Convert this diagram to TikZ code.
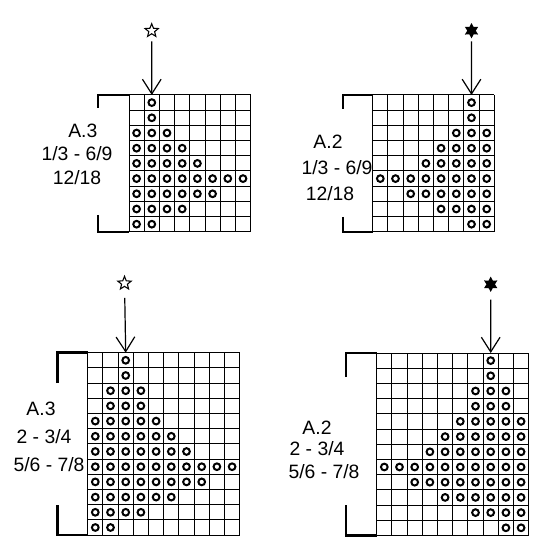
\documentclass[tikz,border=0pt]{standalone}
\usepackage{fontspec}
\setmainfont{Liberation Sans}
\usetikzlibrary{arrows.meta,shapes.geometric}
\tikzset{
	cell/.style={line width=0.75pt},
	stitch/.style={line width=1.5pt},
	bracket/.style={line width=2pt},
	pointer/.style={-{Straight Barb[length=11pt,width=14pt]}, line width=0.9pt, shorten <=8pt},
	chartlabel/.style={font=\fontsize{14.5}{17}\selectfont, inner sep=0pt},
	openstar/.style={star, star points=5, star point ratio=2.3, draw, line width=0.8pt, minimum size=10.5pt, inner sep=0pt},
	solidstar/.style={star, star points=6, star point ratio=1.8, fill, minimum size=11.5pt, inner sep=0pt},
}
\begin{document}
\begin{tikzpicture}[x=0.75pt, y=-0.75pt]
	\useasboundingbox (0,0) rectangle (550,559);
	% A.3 top
	\begin{scope}[shift={(129,95)}, x=11.4pt, y=-11.4pt]
		\foreach \i in {0,...,8} \draw[cell] (\i,0) -- (\i,9);
		\foreach \j in {0,...,9} \draw[cell] (0,\j) -- (8,\j);
		\foreach \r/\a/\b in {1/2/2, 2/2/2, 3/1/3, 4/1/4, 5/1/5, 6/1/8, 7/1/6, 8/1/4, 9/1/2}
			\foreach \c in {\a,...,\b} \draw[stitch] (\c-0.5,\r-0.5) circle[radius=0.22];
		\coordinate (topA) at (1.5,0);
	\end{scope}
	\draw[bracket] (98,108) -- (98,95) -- (129,95);
	\draw[bracket] (98,215) -- (98,232) -- (129,232);
	\node[openstar] (starA) at (151.7,30.7) {};
	\draw[pointer] (starA.center) -- (topA);
	\node[chartlabel] (nameA) at (82.8,130.7) {A.3};
	\node[chartlabel] (sizeA) at (77,154) {1/3 - 6/9};
	\node[chartlabel] (moreA) at (77,178) {12/18};
	% A.2 top
	\begin{scope}[shift={(372.7,95)}, x=11.4pt, y=-11.4pt]
		\foreach \i in {0,...,8} \draw[cell] (\i,0) -- (\i,9);
		\foreach \j in {0,...,9} \draw[cell] (0,\j) -- (8,\j);
		\foreach \r/\a/\b in {1/7/7, 2/7/7, 3/6/8, 4/5/8, 5/4/8, 6/1/8, 7/3/8, 8/5/8, 9/7/8}
			\foreach \c in {\a,...,\b} \draw[stitch] (\c-0.5,\r-0.5) circle[radius=0.22];
		\coordinate (topB) at (6.5,0);
	\end{scope}
	\draw[bracket] (343,109) -- (343,95) -- (372.7,95);
	\draw[bracket] (343,217) -- (343,232) -- (372.7,232);
	\node[solidstar] (starB) at (471.5,30.7) {};
	\draw[pointer] (starB.center) -- (topB);
	\node[chartlabel] (nameB) at (328,141.5) {A.2};
	\node[chartlabel] (sizeB) at (337,168) {1/3 - 6/9};
	\node[chartlabel] (moreB) at (330,194) {12/18};
	% A.3 bottom
	\begin{scope}[shift={(87.7,352.7)}, x=11.4pt, y=-11.4pt]
		\foreach \i in {0,...,10} \draw[cell] (\i,0) -- (\i,12);
		\foreach \j in {0,...,12} \draw[cell] (0,\j) -- (10,\j);
		\foreach \r/\a/\b in {1/3/3, 2/3/3, 3/2/4, 4/2/4, 5/1/5, 6/1/6, 7/1/7, 8/1/10, 9/1/8, 10/1/6, 11/1/4, 12/1/2}
			\foreach \c in {\a,...,\b} \draw[stitch] (\c-0.5,\r-0.5) circle[radius=0.22];
		\coordinate (topC) at (2.5,0);
	\end{scope}
	\draw[bracket] (57.5,383) -- (57.5,352.7) -- (87.7,352.7);
	\draw[bracket] (57.5,505) -- (57.5,535.1) -- (87.7,535.1);
	\node[openstar] (starC) at (124.5,283.3) {};
	\draw[pointer, shorten <=11pt] (starC.center) -- (topC);
	\node[chartlabel] (nameC) at (41,409) {A.3};
	\node[chartlabel] (sizeC) at (44,437) {2 - 3/4};
	\node[chartlabel] (moreC) at (49,465) {5/6 - 7/8};
	% A.2 bottom
	\begin{scope}[shift={(376.7,353)}, x=11.4pt, y=-11.4pt]
		\foreach \i in {0,...,10} \draw[cell] (\i,0) -- (\i,12);
		\foreach \j in {0,...,12} \draw[cell] (0,\j) -- (10,\j);
		\foreach \r/\a/\b in {1/8/8, 2/8/8, 3/7/9, 4/7/9, 5/6/10, 6/5/10, 7/4/10, 8/1/10, 9/3/10, 10/5/10, 11/7/10, 12/9/10}
			\foreach \c in {\a,...,\b} \draw[stitch] (\c-0.5,\r-0.5) circle[radius=0.22];
		\coordinate (topD) at (7.5,0);
	\end{scope}
	\draw[bracket] (346,377) -- (346,353) -- (376.7,353);
	\draw[bracket] (346,505) -- (346,535.4) -- (376.7,535.4);
	\node[solidstar] (starD) at (490.7,284.3) {};
	\draw[pointer, shorten <=11.5pt] (starD.center) -- (topD);
	\node[chartlabel] (nameD) at (317,428) {A.2};
	\node[chartlabel] (sizeD) at (317,448.5) {2 - 3/4};
	\node[chartlabel] (moreD) at (324,472) {5/6 - 7/8};
\end{tikzpicture}
\end{document}
